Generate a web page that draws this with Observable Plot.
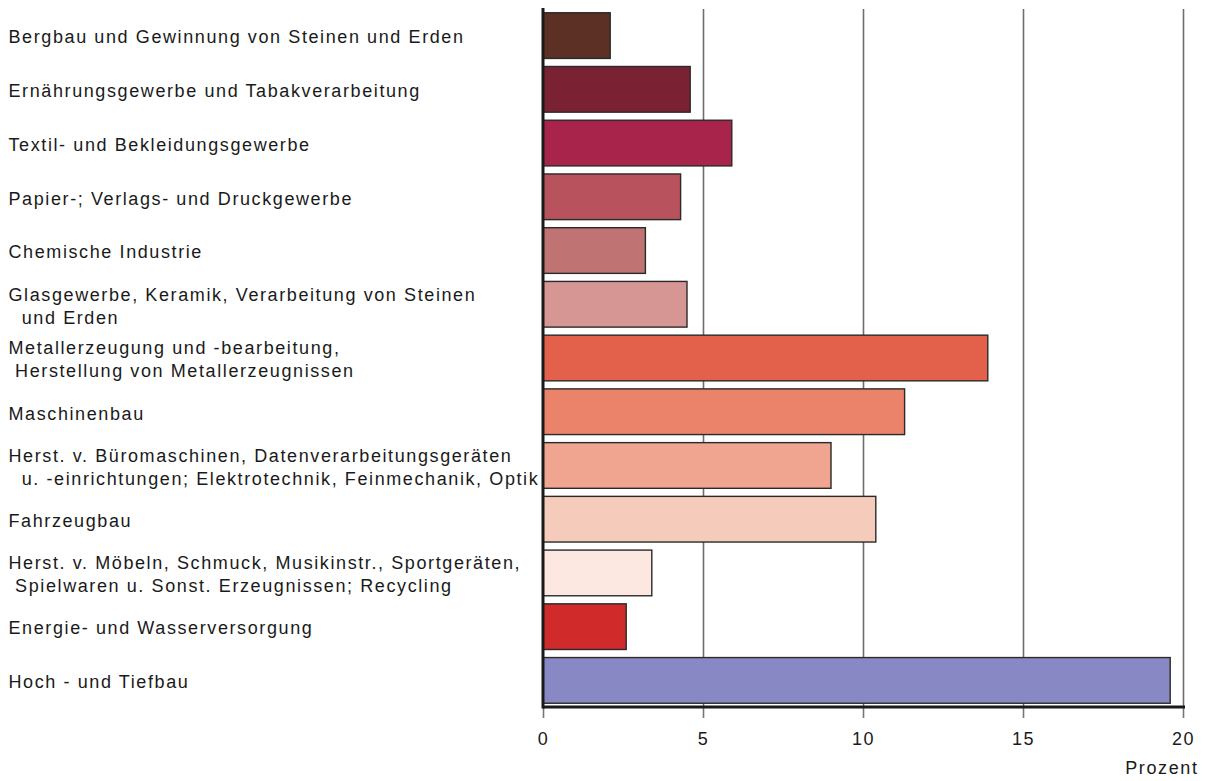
<!DOCTYPE html>
<html>
<head>
<meta charset="utf-8">
<script src="https://cdn.jsdelivr.net/npm/d3@7"></script>
<script src="https://cdn.jsdelivr.net/npm/@observablehq/plot@0.6"></script>
<style>
  body { margin: 0; background: #fff; }
  #chart svg { display: block; }
</style>
</head>
<body>
<div id="chart"></div>
<script>
const categories = [
  "Bergbau und Gewinnung von Steinen und Erden",
  "Ernährungsgewerbe und Tabakverarbeitung",
  "Textil- und Bekleidungsgewerbe",
  "Papier-; Verlags- und Druckgewerbe",
  "Chemische Industrie",
  "Glasgewerbe, Keramik, Verarbeitung von Steinen\n\u00a0\u00a0und Erden",
  "Metallerzeugung und -bearbeitung,\n\u00a0Herstellung von Metallerzeugnissen",
  "Maschinenbau",
  "Herst. v. Büromaschinen, Datenverarbeitungsgeräten\n\u00a0\u00a0u. -einrichtungen; Elektrotechnik, Feinmechanik, Optik",
  "Fahrzeugbau",
  "Herst. v. Möbeln, Schmuck, Musikinstr., Sportgeräten,\n\u00a0Spielwaren u. Sonst. Erzeugnissen; Recycling",
  "Energie- und Wasserversorgung",
  "Hoch - und Tiefbau"
];
const values = [2.1, 4.6, 5.9, 4.3, 3.2, 4.5, 13.9, 11.3, 9.0, 10.4, 3.4, 2.6, 19.6];
const colors = ["#5c3025", "#7a2234", "#a8244a", "#b8525c", "#c07373", "#d69694",
                "#e3614b", "#eb836b", "#efa590", "#f5cbbb", "#fce7e1", "#d02a2b", "#8889c4"];
const xTicks = [0, 5, 10, 15, 20];
const xLabel = "Prozent";

const data = categories.map((c, i) => ({cat: c, value: values[i], color: colors[i]}));

const chart = Plot.plot({
  width: 1210,
  height: 781,
  marginLeft: 543,
  marginRight: 27,
  marginTop: 9,
  marginBottom: 74,
  style: {fontFamily: "'Liberation Sans', Arial, sans-serif", fontSize: "18px", color: "#1a1a1a"},
  x: {domain: [0, 20], ticks: xTicks},
  y: {domain: categories, paddingInner: 0.15, paddingOuter: 0.07, round: false, axis: null},
  color: {type: "identity"},
  marks: [
    Plot.gridX(xTicks.filter(d => d > 0), {stroke: "#6e6e6e", strokeOpacity: 1, strokeWidth: 1.6}),
    Plot.barX(data, {y: "cat", x: "value", fill: "color", stroke: "#2a2a2a", strokeWidth: 1.4}),
    Plot.axisX({ticks: xTicks, tickSize: 11, tickPadding: 14, stroke: "#777", strokeWidth: 1.6,
                fontSize: 18, fill: "#1a1a1a", label: null, className: "xax"}),
    Plot.text(data, {y: "cat", text: "cat", frameAnchor: "left", textAnchor: "start", dx: -535,
                     lineHeight: 1.27, fontSize: 18, fill: "#1a1a1a", className: "lbl"}),
    Plot.text([xLabel], {frameAnchor: "bottom-right", textAnchor: "end", dx: 15, dy: 66, fontSize: 18,
                         fill: "#1a1a1a", className: "xlab"})
  ]
});

const svg = d3.select(chart);
const xs = chart.scale("x");
svg.append("line").attr("x1", xs.apply(0)).attr("x2", xs.apply(0)).attr("y1", 8).attr("y2", 708.5)
  .attr("stroke", "#1a1a1a").attr("stroke-width", 3);
svg.append("line").attr("x1", xs.apply(0)).attr("x2", xs.apply(20) + 2).attr("y1", 707).attr("y2", 707)
  .attr("stroke", "#1a1a1a").attr("stroke-width", 3);
svg.selectAll(".lbl text, .xax text, .xlab text").style("letter-spacing", "1.6px");

document.getElementById("chart").appendChild(chart);
</script>
</body>
</html>
